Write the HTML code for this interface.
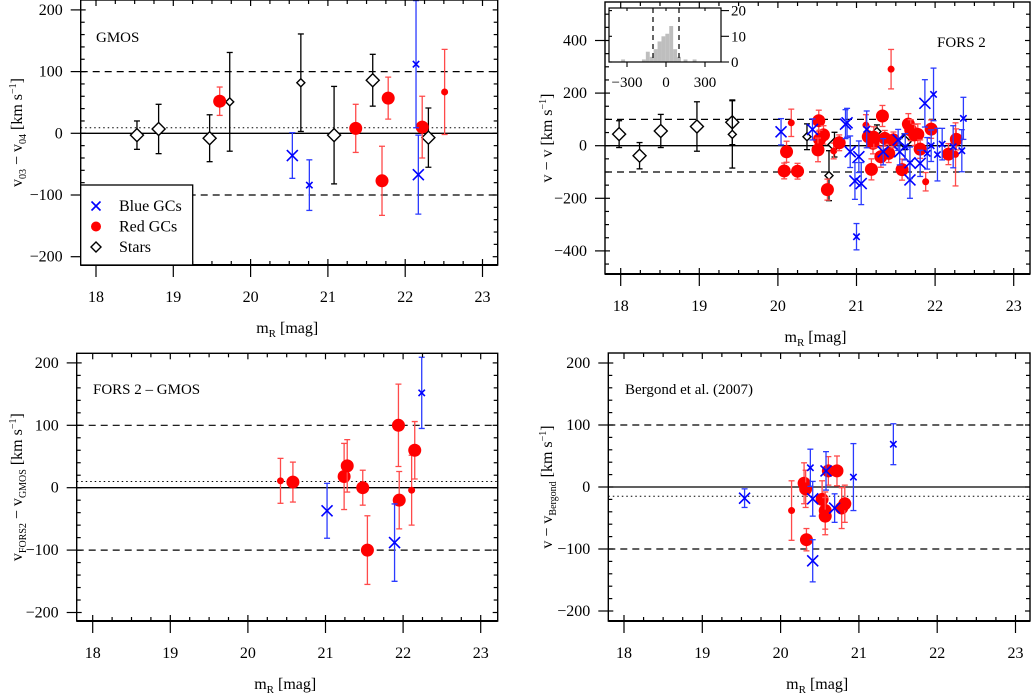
<!DOCTYPE html>
<html><head><meta charset="utf-8">
<style>
html,body{margin:0;padding:0;background:#fff;}
svg{display:block;font-family:"Liberation Serif",serif;}
</style></head>
<body>
<svg id="chart" width="1032" height="693" viewBox="0 0 1032 693" xmlns="http://www.w3.org/2000/svg"></svg>
<script>
// ---------- Panel 1: GMOS (v03 - v04) ----------
const p1Mag  = [18.53,18.81,19.47,19.73,20.65,21.08,21.58,22.30, 19.60,21.36,21.70,21.78,22.22,22.51, 20.54,20.76,22.14,22.17];
const p1Dv   = [-3,7,-8,51,82,-3,86,-7, 52,8,-77,57,10,67, -36,-84,112,-67];
const p1Err  = [23,40,38,80,79,79,42,48, 23,39,56,34,50,69, 37,41,103,64];
const p1Type = ['s','s','s','s','s','s','s','s','r','r','r','r','r','r','b','b','b','b'];
const p1Size = ['L','L','L','S','S','L','L','L','L','L','L','L','L','S','L','S','S','L'];
const p1Offset = 9;

// ---------- Panel 2: FORS 2 ----------
const p2Mag  = [17.98,18.24,18.51,18.97,19.42,19.42,20.37,20.72,20.65,21.26,21.61,
  20.17,20.11,20.08,20.25,20.52,20.58,20.53,20.51,20.63,20.71,20.78,21.12,21.15,21.19,21.21,21.22,21.31,21.33,21.36,21.41,21.44,21.47,21.58,21.66,21.69,21.74,21.78,21.81,21.88,21.95,22.17,22.26,22.27,
  20.04,20.44,20.88,20.86,20.92,20.98,21.03,21.06,21.00,21.13,21.34,21.55,21.53,21.68,21.68,21.81,21.87,21.98,21.90,21.95,22.03,22.09,22.23,22.34,22.36,21.62];
const p2Dv   = [44,-38,56,73,89,43,34,4,-114,54,15,
  87,-23,-96,-97,95,41,24,-16,-167,-20,11,78,34,-90,9,32,-42,113,28,-29,291,22,-91,82,59,41,43,-13,-137,63,-32,-33,24,
  53,62,87,82,-23,-134,-42,-144,-346,62,-23,-23,22,-130,-65,-67,161,195,-29,0,-34,6,-4,-19,104,-4];
const p2Err  = [51,50,63,94,85,128,49,47,95,25,30,
  52,40,30,30,40,35,35,45,40,30,30,40,40,40,40,40,40,40,30,35,75,30,40,40,40,40,40,35,35,35,40,120,40,
  50,40,55,55,60,70,60,80,50,70,50,50,40,70,60,50,90,100,60,60,100,60,80,80,80,50];
const p2Type = ['s','s','s','s','s','s','s','s','s','s','s',
  'r','r','r','r','r','r','r','r','r','r','r','r','r','r','r','r','r','r','r','r','r','r','r','r','r','r','r','r','r','r','r','r','r',
  'b','b','b','b','b','b','b','b','b','b','b','b','b','b','b','b','b','b','b','b','b','b','b','b','b','b'];
const p2Size = ['L','L','L','L','L','S','S','L','S','S','L',
  'S','L','L','L','L','L','L','L','L','S','L','S','L','L','L','L','L','L','L','L','S','L','L','L','L','L','L','L','S','L','L','S','L',
  'L','L','L','L','L','L','L','L','S','S','L','L','L','L','L','L','L','S','S','S','S','S','S','S','S','S'];
// inset histogram
const histCenters = [-330,-170,-140,-110,-80,-50,-20,10,40,70,100,150,220];
const histCounts  = [1,1,4,2,5,8,10,11,14,5,2,1,1];
const histTicks   = [-300,0,300];
const histYTicks  = [0,10,20];

// ---------- Panel 3: FORS 2 - GMOS ----------
const p3Mag  = [20.42,20.58,21.24,21.28,21.48,21.54,21.94,21.95,22.11,22.15, 21.02,21.89,22.24];
const p3Dv   = [11,9,18,35,0,-100,100,-20,-4,60, -37,-88,152];
const p3Err  = [36,32,53,42,28,55,66,46,56,46, 44,62,57];
const p3Type = ['r','r','r','r','r','r','r','r','r','r','b','b','b'];
const p3Size = ['S','L','L','L','L','L','L','L','S','L','L','L','S'];
const p3Offset = 10;

// ---------- Panel 4: Bergond et al. (2007) ----------
const p4Mag  = [20.14,20.30,20.32,20.33,20.53,20.57,20.57,20.61,20.72,20.78,20.82, 19.54,20.38,20.41,20.41,20.58,20.69,20.93,21.44];
const p4Dv   = [-38,6,-3,-85,-20,-38,-47,26,26,-34,-27, -18,31,-19,-119,26,-34,16,69];
const p4Err  = [48,33,30,18,30,30,30,23,24,33,30, 15,30,28,34,31,23,54,33];
const p4Type = ['r','r','r','r','r','r','r','r','r','r','r','b','b','b','b','b','b','b','b'];
const p4Size = ['S','L','L','L','L','L','L','L','L','L','L','L','S','L','L','L','L','S','S'];
const p4Offset = -15;

const xTicks = [18,19,20,21,22,23];

const svg = document.getElementById('chart');
const NS = 'http://www.w3.org/2000/svg';
function mk(tag, attrs, parent){
  const e = document.createElementNS(NS, tag);
  for (const k in attrs) e.setAttribute(k, attrs[k]);
  (parent||svg).appendChild(e);
  return e;
}
const RED='#ff0000', REDBAR='#ff4a4a', BLUE='#0000ff', BLUEBAR='#2b3bff';

function drawPanel(cfg){
  const g = mk('g', {});
  
  
  const X = m => cfg.x0 + (m-18)*cfg.xs;
  const Y = v => cfg.yz - v*cfg.ys;
  const clipId = cfg.name+'-clip';
  const cp = mk('clipPath', {id:clipId}, g);
  mk('rect', {x:cfg.L, y:cfg.T, width:cfg.R-cfg.L, height:cfg.B-cfg.T}, cp);

  const ref = mk('g', {'clip-path':'url(#'+clipId+')'}, g);
  [100,-100].forEach(v=>{
    const l = mk('line', {x1:cfg.L, x2:cfg.R, y1:Y(v), y2:Y(v), stroke:'#000', 'stroke-width':1.2, 'stroke-dasharray':'7,5'}, ref);
    
    
  });
  const zl = mk('line', {x1:cfg.L, x2:cfg.R, y1:Y(0), y2:Y(0), stroke:'#000', 'stroke-width':1.3}, ref);
  
  
  if (cfg.offset !== undefined){
    const dl = mk('line', {x1:cfg.L, x2:cfg.R, y1:Y(cfg.offset), y2:Y(cfg.offset), stroke:'#000', 'stroke-width':1, 'stroke-dasharray':'1.5,3'}, ref);
    
    
  }

  const marks = mk('g', {'clip-path':'url(#'+clipId+')'}, g);
  for (let i=0;i<cfg.mag.length;i++){
    const t=cfg.type[i], s=cfg.size[i];
    const cx=X(cfg.mag[i]), cy=Y(cfg.dv[i]), e=cfg.err[i]*cfg.ys;
    const bc = t==='r'?REDBAR:(t==='b'?BLUEBAR:'#000');
    const pg = mk('g', {}, marks);
    
    
    mk('line', {x1:cx,x2:cx,y1:cy-e,y2:cy+e,stroke:bc,'stroke-width':1.3}, pg);
    mk('line', {x1:cx-3,x2:cx+3,y1:cy-e,y2:cy-e,stroke:bc,'stroke-width':1.3}, pg);
    mk('line', {x1:cx-3,x2:cx+3,y1:cy+e,y2:cy+e,stroke:bc,'stroke-width':1.3}, pg);
    if (t==='r'){
      mk('circle', {cx:cx, cy:cy, r:s==='L'?6.5:3.5, fill:RED}, pg);
    } else if (t==='b'){
      const h = s==='L'?5.5:3.2;
      mk('path', {d:`M${cx-h},${cy-h}L${cx+h},${cy+h}M${cx-h},${cy+h}L${cx+h},${cy-h}`, stroke:BLUE, 'stroke-width':1.6, fill:'none'}, pg);
    } else {
      const h = s==='L'?6.5:4;
      mk('path', {d:`M${cx},${cy-h}L${cx+h},${cy}L${cx},${cy+h}L${cx-h},${cy}Z`, stroke:'#000', 'stroke-width':1.4, fill:'#fff'}, pg);
    }
  }

  const fr = mk('rect', {x:cfg.L, y:cfg.T, width:cfg.R-cfg.L, height:cfg.B-cfg.T, fill:'none', stroke:'#000', 'stroke-width':1.4}, g);
  
  
  mk('line', {x1:cfg.L, x2:cfg.R, y1:cfg.B, y2:cfg.B, stroke:'#000', 'stroke-width':2}, g);

  for (let m=17.75;m<=23.26;m+=0.25){
    const x=X(m);
    if (x<cfg.L || x>cfg.R) continue;
    const major = Math.abs(m-Math.round(m))<0.01;
    const len = major?6:4;
    mk('line', {x1:x,x2:x,y1:cfg.B-len,y2:cfg.B+(major?12:0),stroke:'#000','stroke-width':1.2}, g);
    mk('line', {x1:x,x2:x,y1:cfg.T,y2:cfg.T+len,stroke:'#000','stroke-width':1.2}, g);
  }
  xTicks.forEach(m=>{
    const t = mk('text', {x:X(m), y:cfg.B+37, 'text-anchor':'middle', 'font-size':16}, g);
    t.textContent = m;
    
    
  });
  for (let v=cfg.yMin; v<=cfg.yMax+0.1; v+=cfg.yMinor){
    const y=Y(v);
    if (y<cfg.T-0.5 || y>cfg.B+0.5) continue;
    const major = Math.abs(v/cfg.yMajor - Math.round(v/cfg.yMajor))<0.01;
    const len = major?5:4;
    mk('line', {x1:cfg.L-(major?10:0), x2:cfg.L+len, y1:y, y2:y, stroke:'#000','stroke-width':1.2}, g);
    mk('line', {x1:cfg.R-len, x2:cfg.R, y1:y, y2:y, stroke:'#000','stroke-width':1.2}, g);
  }
  cfg.yLabels.forEach(v=>{
    const t = mk('text', {x:cfg.L-18, y:Y(v)+5, 'text-anchor':'end', 'font-size':16}, g);
    t.textContent = v<0 ? '\u2212'+(-v) : v;
    
    
  });
  const xt = mk('text', {x:(cfg.L+cfg.R)/2-2, y:cfg.B+68, 'text-anchor':'middle', 'font-size':16}, g);
  xt.innerHTML = 'm<tspan font-size="11" dy="4">R</tspan><tspan dy="-4"> [mag]</tspan>';
  
  
  const yt = mk('text', {x:0, y:0, 'text-anchor':'middle', 'font-size':16, transform:`translate(${cfg.ytx},${(cfg.T+cfg.B)/2}) rotate(-90)`}, g);
  yt.innerHTML = cfg.ytitle;
  
  
  const lab = mk('text', {x:cfg.labX, y:cfg.labY, 'font-size':15}, g);
  lab.textContent = cfg.label;
  
  
  return {g, X, Y};
}

const unit = ' [km s<tspan font-size="10" dy="-6">\u22121</tspan><tspan dy="6">]</tspan>';
drawPanel({name:'gmos-panel', L:80.7,R:497.7,T:0,B:265, x0:96, xs:77.3, yz:133.3, ys:0.617,
  yMin:-220,yMax:220,yMinor:20,yMajor:100,yLabels:[200,100,0,-100,-200],
  mag:p1Mag,dv:p1Dv,err:p1Err,type:p1Type,size:p1Size,offset:p1Offset,
  ytx:22, ytitle:'v<tspan font-size="10" dy="4">03</tspan><tspan dy="-4"> \u2212 v</tspan><tspan font-size="10" dy="4">04</tspan><tspan dy="-4">'+unit+'</tspan>',
  label:'GMOS', labX:96, labY:42});

drawPanel({name:'fors2-panel', L:605,R:1030,T:2,B:274, x0:620.7, xs:78.6, yz:145.7, ys:0.263,
  yMin:-500,yMax:500,yMinor:50,yMajor:200,yLabels:[400,200,0,-200,-400],
  mag:p2Mag,dv:p2Dv,err:p2Err,type:p2Type,size:p2Size,
  ytx:552, ytitle:'v \u2212 v'+unit,
  label:'FORS 2', labX:937, labY:47});

drawPanel({name:'fors2-minus-gmos-panel', L:76.7,R:497.7,T:353.3,B:621, x0:92.7, xs:77.6, yz:487.7, ys:0.624,
  yMin:-220,yMax:220,yMinor:20,yMajor:100,yLabels:[200,100,0,-100,-200],
  mag:p3Mag,dv:p3Dv,err:p3Err,type:p3Type,size:p3Size,offset:p3Offset,
  ytx:22, ytitle:'v<tspan font-size="10" dy="4">FORS2</tspan><tspan dy="-4"> \u2212 v</tspan><tspan font-size="10" dy="4">GMOS</tspan><tspan dy="-4">'+unit+'</tspan>',
  label:'FORS 2 \u2013 GMOS', labX:93, labY:394});

drawPanel({name:'bergond-panel', L:608.3,R:1030,T:353,B:621, x0:624, xs:78.3, yz:487, ys:0.62,
  yMin:-220,yMax:220,yMinor:20,yMajor:100,yLabels:[200,100,0,-100,-200],
  mag:p4Mag,dv:p4Dv,err:p4Err,type:p4Type,size:p4Size,offset:p4Offset,
  ytx:552, ytitle:'v \u2212 v<tspan font-size="10" dy="4">Bergond</tspan><tspan dy="-4">'+unit+'</tspan>',
  label:'Bergond et al. (2007)', labX:625, labY:394});

// ---------- Legend (panel 1) ----------
const lg = mk('g', {});


mk('rect', {x:80.7, y:185, width:112, height:80, fill:'#fff', stroke:'#000', 'stroke-width':1.3}, lg);
const legNames = ['Blue GCs','Red GCs','Stars'];
legNames.forEach((n,i)=>{
  const y = 206 + i*20.5;
  const e = mk('g', {}, lg);
  
  
  const cx = 96;
  if (i===0) mk('path', {d:`M${cx-4.5},${y-4.5}L${cx+4.5},${y+4.5}M${cx-4.5},${y+4.5}L${cx+4.5},${y-4.5}`, stroke:BLUE,'stroke-width':1.6}, e);
  if (i===1) mk('circle', {cx:cx, cy:y, r:5, fill:RED}, e);
  if (i===2) mk('path', {d:`M${cx},${y-5}L${cx+5},${y}L${cx},${y+5}L${cx-5},${y}Z`, stroke:'#000','stroke-width':1.4, fill:'#fff'}, e);
  const t = mk('text', {x:119, y:y+5, 'font-size':16}, e);
  t.textContent = n;
});

// ---------- Inset histogram ----------
const ins = mk('g', {});


const iL=609, iR=721, iT=8, iB=62;
const hx = v => 666 + v*0.13;
const hy = c => iB - c*2.57;
mk('rect', {x:iL, y:iT, width:iR-iL, height:iB-iT, fill:'#fff'}, ins);
const binW = 30;
for (let i=0;i<histCenters.length;i++){
  const b = mk('rect', {x:hx(histCenters[i]-binW/2), y:hy(histCounts[i]), width:binW*0.13, height:iB-hy(histCounts[i]), fill:'#bebebe'}, ins);
  
  
}
[-100,100].forEach(v=>{
  mk('line', {x1:hx(v), x2:hx(v), y1:iT, y2:iB, stroke:'#000', 'stroke-width':1.2, 'stroke-dasharray':'5,4'}, ins);
});
mk('rect', {x:iL, y:iT, width:iR-iL, height:iB-iT, fill:'none', stroke:'#000', 'stroke-width':1.2}, ins);
histTicks.forEach(v=>{
  mk('line', {x1:hx(v),x2:hx(v),y1:iB,y2:iB+5,stroke:'#000','stroke-width':1.1}, ins);
  mk('line', {x1:hx(v),x2:hx(v),y1:iT,y2:iT+3,stroke:'#000','stroke-width':1.1}, ins);
  const t = mk('text', {x:hx(v), y:iB+25, 'text-anchor':'middle', 'font-size':15}, ins);
  t.textContent = v<0 ? '\u2212'+(-v) : v;
  
  
});
histYTicks.forEach(c=>{
  mk('line', {x1:iR,x2:iR+8,y1:hy(c),y2:hy(c),stroke:'#000','stroke-width':1.1}, ins);
  mk('line', {x1:iL,x2:iL+3,y1:hy(c),y2:hy(c),stroke:'#000','stroke-width':1.1}, ins);
  const t = mk('text', {x:iR+10, y:hy(c)+5, 'font-size':15}, ins);
  t.textContent = c;
  
  
});
</script>
</body></html>
